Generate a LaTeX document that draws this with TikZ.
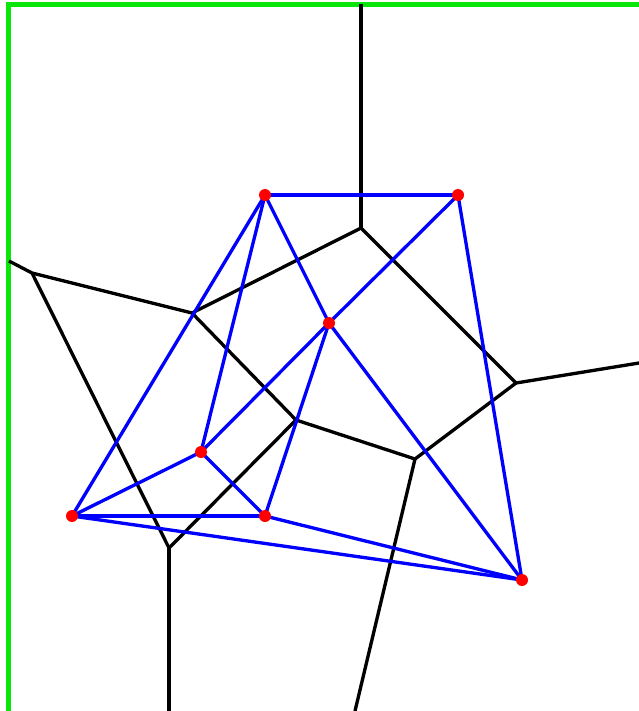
\documentclass[tikz,border=0pt]{standalone}
\usepackage{xcolor}
\definecolor{vgreen}{RGB}{10,230,10}
\tikzset{
  cell/.style={line width=2.5pt, black},
  tri/.style={line width=2.5pt, blue},
  frame/.style={line width=3.2pt, vgreen},
}

\begin{document}
\begin{tikzpicture}[x=0.75pt,y=-0.75pt]
    \useasboundingbox (0,0) rectangle (639,711);

    % sites
    \coordinate (s1) at (265,195);
    \coordinate (s2) at (458,195);
    \coordinate (s3) at (329,323);
    \coordinate (s4) at (201,452);
    \coordinate (s5) at (72,516);
    \coordinate (s6) at (265,516);
    \coordinate (s7) at (522,580);

    % Voronoi vertices
    \coordinate (v1) at (361,228);
    \coordinate (v2) at (192,313);
    \coordinate (v3) at (32,273);
    \coordinate (v4) at (296,420);
    \coordinate (v5) at (415,459);
    \coordinate (v6) at (516,383);
    \coordinate (v7) at (169,548);

    % open ends
    \coordinate (eTop) at (361,4);
    \coordinate (eLeft) at (9,261);
    \coordinate (eRight) at (639,363);
    \coordinate (eBotA) at (169,711);
    \coordinate (eBotB) at (355,711);

    % frame
    \draw[frame] (8.5,711) -- (8.5,4.5) -- (639,4.5);

    % Voronoi edges
    \draw[cell] (eTop) -- (v1);
    \draw[cell] (v1) -- (v2);
    \draw[cell] (v1) -- (v6);
    \draw[cell] (v6) -- (eRight);
    \draw[cell] (v6) -- (v5);
    \draw[cell] (v5) -- (v4);
    \draw[cell] (v5) -- (eBotB);
    \draw[cell] (v4) -- (v2);
    \draw[cell] (v4) -- (v7);
    \draw[cell] (v2) -- (v3);
    \draw[cell] (v3) -- (eLeft);
    \draw[cell] (v3) -- (v7);
    \draw[cell] (v7) -- (eBotA);

    % Delaunay edges
    \draw[tri] (s1) -- (s2);
    \draw[tri] (s1) -- (s3);
    \draw[tri] (s1) -- (s4);
    \draw[tri] (s1) -- (s5);
    \draw[tri] (s2) -- (s3);
    \draw[tri] (s2) -- (s7);
    \draw[tri] (s3) -- (s4);
    \draw[tri] (s3) -- (s6);
    \draw[tri] (s3) -- (s7);
    \draw[tri] (s4) -- (s5);
    \draw[tri] (s4) -- (s6);
    \draw[tri] (s5) -- (s6);
    \draw[tri] (s5) -- (s7);
    \draw[tri] (s6) -- (s7);

    % points
    \foreach \p in {s1,s2,s3,s4,s5,s6,s7}
        \fill[red] (\p) circle[radius=4.5pt];

\end{tikzpicture}
\end{document}
